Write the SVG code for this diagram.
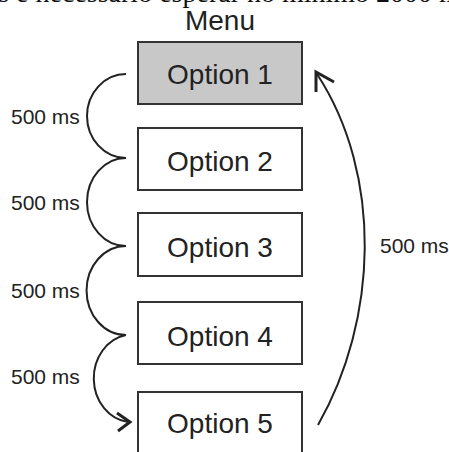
<svg xmlns="http://www.w3.org/2000/svg" width="449" height="452" viewBox="0 0 449 452">
<style>
.box{fill:#fff;stroke:#333;stroke-width:2}
.sel{fill:#c8c8c8}
.lbl{font-family:"Liberation Sans",Arial,sans-serif;fill:#222}
.opt{font-size:28px;text-anchor:middle}
.ms{font-size:21px}
.ln{fill:none;stroke:#222;stroke-width:2}
.ah{fill:none;stroke:#222;stroke-width:3;stroke-linejoin:miter;stroke-linecap:butt}
</style>
<rect width="449" height="452" fill="#fff"/>
<text x="-36" y="2" font-family="Liberation Serif,Times New Roman,serif" font-size="28" fill="#111">mas é necessário esperar no mínimo 2000 ms</text>
<text class="lbl" x="220" y="29.5" font-size="28" text-anchor="middle">Menu</text>
<g id="option1"><rect class="box sel" x="138" y="42" width="164" height="62"/><text class="lbl opt" x="220" y="84">Option 1</text></g>
<g id="option2"><rect class="box" x="138" y="128" width="164" height="62"/><text class="lbl opt" x="220" y="171">Option 2</text></g>
<g id="option3"><rect class="box" x="138" y="213" width="164" height="63"/><text class="lbl opt" x="220" y="257">Option 3</text></g>
<g id="option4"><rect class="box" x="138" y="302" width="164" height="62"/><text class="lbl opt" x="220" y="346">Option 4</text></g>
<g id="option5"><rect class="box" x="138" y="392" width="164" height="70"/><text class="lbl opt" x="220" y="433">Option 5</text></g>
<g id="connectors">
<path class="ln" d="M126,74 A39,42 0 0 0 126,158"/>
<path class="ln" d="M126,158 A39,44 0 0 0 126,246"/>
<path class="ln" d="M126,246 A39,44 0 0 0 126,335"/>
<path class="ln" d="M126,335 A39,44 0 0 0 128,422"/>
<path class="ah" d="M117,413 L130,422 L118,431"/>
<path class="ln" d="M318,425 C378,320 383,175 317,74"/>
<path class="ah" d="M316,92 L316,72 L334,82"/>
<text class="lbl ms" x="11" y="124">500 ms</text>
<text class="lbl ms" x="11" y="210">500 ms</text>
<text class="lbl ms" x="11" y="298">500 ms</text>
<text class="lbl ms" x="11" y="384">500 ms</text>
<text class="lbl ms" x="380" y="253">500 ms</text>
</g>
</svg>
